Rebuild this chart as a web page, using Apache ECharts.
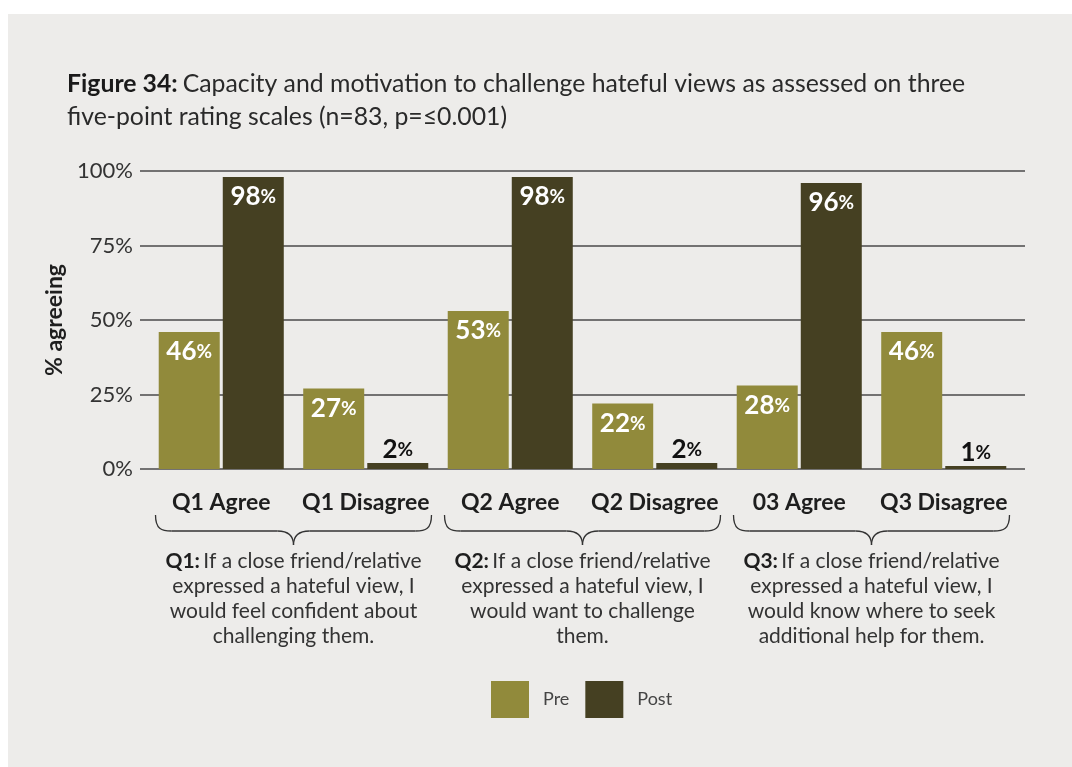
<!DOCTYPE html>
<html>
<head>
<meta charset="utf-8">
<script src="https://cdn.jsdelivr.net/npm/echarts@6/dist/echarts.min.js"></script>
<style>
  html, body { margin: 0; padding: 0; background: #ffffff; }
  #chart { width: 1072px; height: 767px; }
</style>
</head>
<body>
<div id="chart"></div>
<script>
// Survey responses, % agreeing before and after
const categories = ['Q1 Agree', 'Q1 Disagree', 'Q2 Agree', 'Q2 Disagree', '03 Agree', 'Q3 Disagree'];
const preValues = [46, 27, 53, 22, 28, 46];
const postValues = [98, 2, 98, 2, 96, 1];
const yTicks = [0, 25, 50, 75, 100];

// Question wording shown under each pair of bars
const questionKeys = ['Q1:', 'Q2:', 'Q3:'];
const questionLines = [
  ['If a close friend/relative', 'expressed a hateful view, I', 'would feel confident about', 'challenging them.'],
  ['If a close friend/relative', 'expressed a hateful view, I', 'would want to challenge', 'them.'],
  ['If a close friend/relative', 'expressed a hateful view, I', 'would know where to seek', 'additional help for them.']
];

const PRE = '#918a3b';
const POST = '#454022';
const FONT = 'Lato, "Open Sans", sans-serif';

const chart = echarts.init(document.getElementById('chart'), null, { renderer: 'canvas' });

function valueLabel(v) {
  const small = v < 10;
  return {
    show: true,
    position: small ? 'top' : 'insideTop',
    distance: small ? 0 : 7,
    formatter: '{n|' + v + '}{p|%}',
    rich: {
      n: { fontFamily: FONT, fontWeight: 'bold', fontSize: 26, color: small ? '#111' : '#fff' },
      p: { fontFamily: FONT, fontWeight: 'bold', fontSize: 19, color: small ? '#111' : '#fff' }
    }
  };
}

function seriesData(values) {
  return values.map(v => ({ value: v, label: valueLabel(v) }));
}

chart.setOption({
  animation: false,
  backgroundColor: '#ffffff',
  title: {
    left: 67,
    top: 68,
    padding: 0,
    text: '{b|Figure 34:} {r|Capacity and motivation to challenge hateful views as assessed on three}\n{r|five-point rating scales (n=83, p=≤0.001)}',
    textStyle: {
      rich: {
        b: { fontFamily: FONT, fontWeight: 'bold', fontSize: 24.8, color: '#1a1a1a', lineHeight: 33 },
        r: { fontFamily: FONT, fontWeight: 'normal', fontSize: 24.8, color: '#2a2a2a', lineHeight: 33 }
      }
    }
  },
  legend: {
    left: 491,
    top: 681,
    padding: 0,
    itemWidth: 38,
    itemHeight: 37,
    itemGap: 16,
    icon: 'rect',
    data: ['Pre', 'Post'],
    textStyle: { fontFamily: FONT, fontSize: 18, color: '#444', padding: [0, 0, 0, 9] }
  },
  grid: [
    // axis frame with the gridlines
    { left: 140, right: 47, top: 171, bottom: 298 },
    // bar area
    { left: 149, right: 56, top: 171, bottom: 298 }
  ],
  xAxis: [
    { gridIndex: 0, type: 'value', min: 0, max: 1, show: false },
    {
      gridIndex: 1,
      type: 'category',
      data: categories,
      axisLine: { show: false },
      axisTick: { show: false },
      axisLabel: {
        interval: 0,
        hideOverlap: false,
        margin: 22,
        fontFamily: FONT,
        fontWeight: 'bold',
        fontSize: 23,
        color: '#1e1e1e'
      }
    }
  ],
  yAxis: [
    {
      gridIndex: 0,
      type: 'value',
      min: 0,
      max: 100,
      interval: 25,
      name: '% agreeing',
      nameLocation: 'middle',
      nameGap: 70,
      nameRotate: 90,
      nameTextStyle: { fontFamily: FONT, fontWeight: 'bold', fontSize: 23, color: '#1e1e1e' },
      axisLine: { show: false },
      axisTick: { show: false },
      splitLine: { lineStyle: { color: '#4a4a4a', width: 1.5 } },
      axisLabel: {
        margin: 7,
        fontFamily: FONT,
        fontSize: 22,
        color: '#333',
        formatter: v => (yTicks.includes(v) ? v + '%' : '')
      }
    },
    { gridIndex: 1, type: 'value', min: 0, max: 100, interval: 25, show: false }
  ],
  series: [
    {
      name: 'Pre',
      type: 'bar',
      xAxisIndex: 1,
      yAxisIndex: 1,
      barWidth: 61,
      barGap: '5%',
      itemStyle: { color: PRE },
      data: seriesData(preValues)
    },
    {
      name: 'Post',
      type: 'bar',
      xAxisIndex: 1,
      yAxisIndex: 1,
      barWidth: 61,
      barGap: '5%',
      itemStyle: { color: POST },
      data: seriesData(postValues)
    }
  ]
});

// Braces and question text under each pair of categories
function buildAnnotations() {
  const elements = [
    { type: 'rect', z: -10, shape: { x: 8, y: 14, width: 1064, height: 753 }, style: { fill: '#edecea' } }
  ];
  const bandLeft = chart.convertToPixel({ xAxisIndex: 1 }, categories[0]);
  const bandNext = chart.convertToPixel({ xAxisIndex: 1 }, categories[1]);
  const band = bandNext - bandLeft;
  const topY = 515, midY = 531, tipY = 545;
  const braceStyle = { fill: 'none', stroke: '#333', lineWidth: 1.3 };

  function curve(x1, y1, cx1, cy1, cx2, cy2, x2, y2) {
    return {
      type: 'bezierCurve',
      shape: { x1: x1, y1: y1, cpx1: cx1, cpy1: cy1, cpx2: cx2, cpy2: cy2, x2: x2, y2: y2 },
      style: braceStyle
    };
  }
  function seg(x1, y1, x2, y2) {
    return { type: 'line', shape: { x1: x1, y1: y1, x2: x2, y2: y2 }, style: braceStyle };
  }

  questionKeys.forEach((key, g) => {
    const c1 = chart.convertToPixel({ xAxisIndex: 1 }, categories[g * 2]);
    const c2 = chart.convertToPixel({ xAxisIndex: 1 }, categories[g * 2 + 1]);
    const cx = (c1 + c2) / 2;
    const half = band * 0.955;
    const L = cx - half, R = cx + half;
    elements.push(
      curve(L, topY, L, midY - 2, L + 6, midY, L + 16, midY),
      seg(L + 16, midY, cx - 16, midY),
      curve(cx - 16, midY, cx - 6, midY, cx, midY + 4, cx, tipY),
      curve(cx, tipY, cx, midY + 4, cx + 6, midY, cx + 16, midY),
      seg(cx + 16, midY, R - 16, midY),
      curve(R - 16, midY, R - 6, midY, R, midY - 2, R, topY)
    );

    questionLines[g].forEach((line, i) => {
      const text = i === 0 ? '{b|' + key + '} {r|' + line + '}' : '{r|' + line + '}';
      elements.push({
        type: 'text',
        x: cx,
        y: 561 + i * 25,
        style: {
          text: text,
          align: 'center',
          verticalAlign: 'middle',
          rich: {
            b: { fontFamily: FONT, fontWeight: 'bold', fontSize: 21, fill: '#1e1e1e' },
            r: { fontFamily: FONT, fontWeight: 'normal', fontSize: 21, fill: '#333' }
          }
        }
      });
    });
  });
  chart.setOption({ graphic: { elements: elements } });
}

buildAnnotations();
</script>
</body>
</html>
